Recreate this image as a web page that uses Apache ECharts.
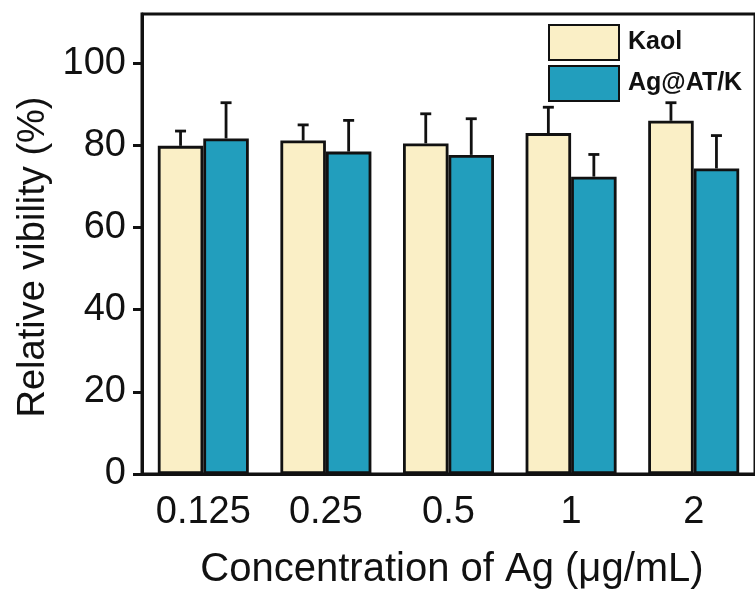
<!DOCTYPE html>
<html>
<head>
<meta charset="utf-8">
<script src="https://cdn.jsdelivr.net/npm/echarts@6/dist/echarts.min.js"></script>
<style>html,body{margin:0;padding:0;background:#fff}#c{width:755px;height:590px}</style>
</head>
<body>
<div id="c"></div>
<script>
const categories = ['0.125', '0.25', '0.5', '1', '2'];
const kaolValues = [79.9, 81.2, 80.5, 83.0, 86.0];
const kaolErrors = [3.6, 3.8, 7.2, 6.3, 4.4];
const agValues = [81.7, 78.5, 77.7, 72.4, 74.4];
const agErrors = [8.7, 7.6, 8.8, 5.4, 8.0];
const yTicks = [0, 20, 40, 60, 80, 100];

const FONT = "'Liberation Sans', Arial, sans-serif";
const BAR_W = 45.5;

function errorSeries(values, errors, side) {
  return {
    type: 'custom',
    z: 5,
    silent: true,
    data: values.map((v, i) => [i, v, v + errors[i]]),
    renderItem: function (params, api) {
      const base = api.coord([api.value(0), api.value(1)]);
      const top = api.coord([api.value(0), api.value(2)]);
      const x = base[0] + side * BAR_W / 2;
      const style = { stroke: '#111', lineWidth: 2.8 };
      return {
        type: 'group',
        children: [
          { type: 'line', shape: { x1: x, y1: base[1], x2: x, y2: top[1] }, style: style },
          { type: 'line', shape: { x1: x - 5.5, y1: top[1], x2: x + 5.5, y2: top[1] }, style: style }
        ]
      };
    }
  };
}

const chart = echarts.init(document.getElementById('c'), null, { renderer: 'canvas' });
chart.setOption({
  animation: false,
  grid: { left: 142, top: 14, right: -7, bottom: 116, show: true, borderColor: '#111', borderWidth: 3, backgroundColor: 'transparent' },
  legend: {
    orient: 'vertical', left: 548, top: 24, itemWidth: 70, itemHeight: 35, itemGap: 4, padding: 0,
    icon: 'rect',
    data: ['Kaol', 'Ag@AT/K'],
    textStyle: { fontFamily: 'Liberation Sans', fontWeight: 'bold', fontSize: 25, color: '#111', padding: [0, 0, 0, 4] }
  },
  xAxis: {
    type: 'category', data: categories,
    axisLine: { lineStyle: { color: '#111', width: 3 } },
    axisTick: { show: false },
    axisLabel: { fontFamily: FONT, fontSize: 38, color: '#111', margin: 20, interval: 0 },
    splitLine: { show: false }
  },
  yAxis: {
    type: 'value', min: 0, max: 112,
    axisLine: { show: true, lineStyle: { color: '#111', width: 3 } },
    axisTick: { show: true, length: 9, lineStyle: { color: '#111', width: 3 }, customValues: yTicks },
    axisLabel: { fontFamily: FONT, fontSize: 38, color: '#111', margin: 16, customValues: yTicks },
    splitLine: { show: false }
  },
  graphic: [
    { type: 'text', x: 452, y: 569.5, style: { text: 'Concentration of Ag (μg/mL)', fontFamily: FONT, fontSize: 40, fill: '#111', x: 0, y: 0, textAlign: 'center', textVerticalAlign: 'middle' } },
    { type: 'text', rotation: Math.PI / 2, x: 34, y: 257, style: { text: 'Relative vibility (%)', fontFamily: FONT, fontSize: 38, fill: '#111', x: 0, y: 0, textAlign: 'center', textVerticalAlign: 'middle' } }
  ],
  series: [
    { name: 'Kaol', type: 'bar', data: kaolValues, barWidth: BAR_W, barGap: '0%',
      itemStyle: { color: '#FAEFC6', borderColor: '#111', borderWidth: 2.8 } },
    { name: 'Ag@AT/K', type: 'bar', data: agValues, barWidth: BAR_W, barGap: '0%',
      itemStyle: { color: '#229EBD', borderColor: '#111', borderWidth: 2.8 } },
    errorSeries(kaolValues, kaolErrors, -1),
    errorSeries(agValues, agErrors, 1)
  ]
});
</script>
</body>
</html>
